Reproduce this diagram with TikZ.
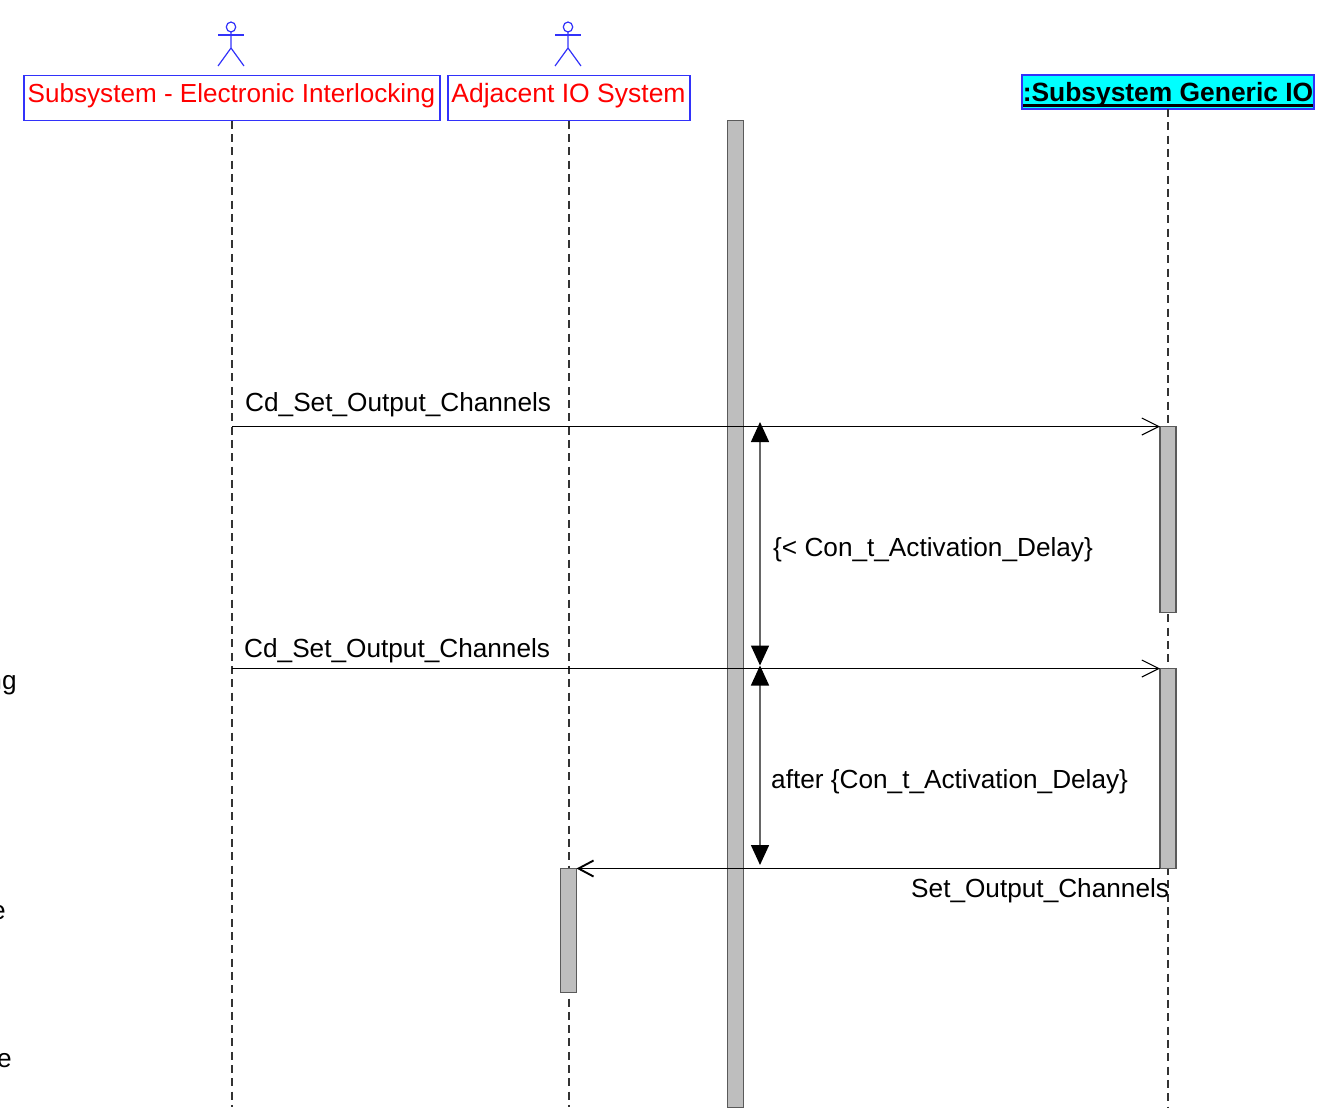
\documentclass[tikz,border=0pt]{standalone}
\usepackage{fontspec}
\setmainfont{Liberation Sans}
\usetikzlibrary{arrows.meta}
\definecolor{actorblue}{RGB}{50,50,250}
\definecolor{barfill}{RGB}{190,190,190}
\definecolor{barline}{RGB}{90,90,90}
\definecolor{headcyan}{RGB}{0,255,255}
\tikzset{
  px/.style={x=1pt,y=-1pt},
  lbl/.style={font=\fontsize{26.2}{30}\selectfont,inner sep=0pt,anchor=base west,text=black},
  actorbox/.style={draw=actorblue,line width=1.3pt,inner sep=0pt,outer sep=0pt,minimum height=45.5pt},
  actorline/.style={draw=actorblue,line width=1.2pt},
  life/.style={draw=black!80,line width=1.6pt,dash pattern=on 8pt off 5.3pt},
  bar/.style={draw=barline,fill=barfill,line width=1.4pt,inner sep=0pt,outer sep=0pt,minimum width=16pt},
  msg/.style={draw=black,line width=1.1pt},
  openhead/.style={-{Straight Barb[length=17pt,width=17pt,line width=1.1pt]}},
  timing/.style={draw=black!60,line width=1.5pt,{Triangle[length=20pt,width=18pt,color=black]}-{Triangle[length=20pt,width=18pt,color=black]}},
}
\begin{document}
\begin{tikzpicture}[px]
\useasboundingbox (0,0) rectangle (1325,1112);
% lifeline ends
\coordinate (end1) at (232,1107);
\coordinate (end2) at (569,1107);
\coordinate (end3) at (1168,1107);
% headers
\node[actorbox,minimum width=416pt] (box1) at (232,98) {};
\node[actorbox,minimum width=242pt] (box2) at (569,98) {};
\node[font=\fontsize{26.1}{30}\selectfont,text=red,inner sep=0pt,anchor=base] (box1text) at (231.5,102.5) {Subsystem - Electronic Interlocking};
\node[font=\fontsize{26.5}{30}\selectfont,text=red,inner sep=0pt,anchor=base] (box2text) at (568.5,102.5) {Adjacent IO System};
\node[draw=actorblue,fill=headcyan,line width=1.3pt,inner sep=0pt,outer sep=0pt,minimum width=292pt,minimum height=34pt] (box3) at (1168,92) {};
\node[font=\fontsize{26.4}{30}\selectfont\bfseries,inner sep=0pt,anchor=base] (box3text) at (1168,101) {:Subsystem Generic IO};
\coordinate (ul1) at (1023,105.5);
\coordinate (ul2) at (1313,105.5);
\draw[black,line width=2.4pt] (ul1) -- (ul2);
% lifelines
\draw[life] (box1.south) -- (end1);
\draw[life] (box2.south) -- (end2);
\draw[life] (box3.south) -- (end3);
% actors
\foreach \n/\cx in {a/231,b/568}{
  \draw[actorline] (\cx,27) ellipse (4.7pt and 5pt);
  \draw[actorline] (\cx,32) -- (\cx,48) -- (\cx-13,66);
  \draw[actorline] (\cx,48) -- (\cx+13,66);
  \draw[actorline] (\cx-13,35) -- (\cx+13,35);
}
% bars
\node[bar,minimum height=987pt] (main) at (735.5,614) {};
\node[bar,minimum height=186pt] (act1) at (1168,519.5) {};
\node[bar,minimum height=200pt] (act2) at (1168,768.5) {};
\node[bar,minimum height=124pt] (act3) at (568.5,930.5) {};
% messages
\coordinate (m1) at (232,426.5);
\coordinate (m2) at (232,668.5);
\draw[msg,openhead] (m1) -- (act1.north west);
\draw[msg,openhead] (m2) -- (act2.north west);
\draw[msg,-{Straight Barb[length=15pt,width=16pt,line width=1.9pt]}] (act2.south west) -- (act3.north east);
% timing
\coordinate (t1) at (760,422);
\coordinate (t2) at (760,665.5);
\coordinate (t3) at (760,665.5);
\coordinate (t4) at (760,865);
\draw[timing] (t1) -- (t2);
\draw[timing] (t3) -- (t4);
% labels
\node[lbl] (l1) at (245,411) {Cd\_Set\_Output\_Channels};
\node[lbl] (l2) at (244,657) {Cd\_Set\_Output\_Channels};
\node[lbl] (l3) at (773,556) {\{< Con\_t\_Activation\_Delay\}};
\node[lbl] (l4) at (771,788) {after \{Con\_t\_Activation\_Delay\}};
\node[lbl] (l5) at (911,897) {Set\_Output\_Channels};
\node[lbl,anchor=base east] (c1) at (16.8,689) {ng};
\node[lbl,anchor=base east] (c2) at (6,919) {e};
\node[lbl,anchor=base east] (c3) at (12,1067) {e};
\end{tikzpicture}
\end{document}
